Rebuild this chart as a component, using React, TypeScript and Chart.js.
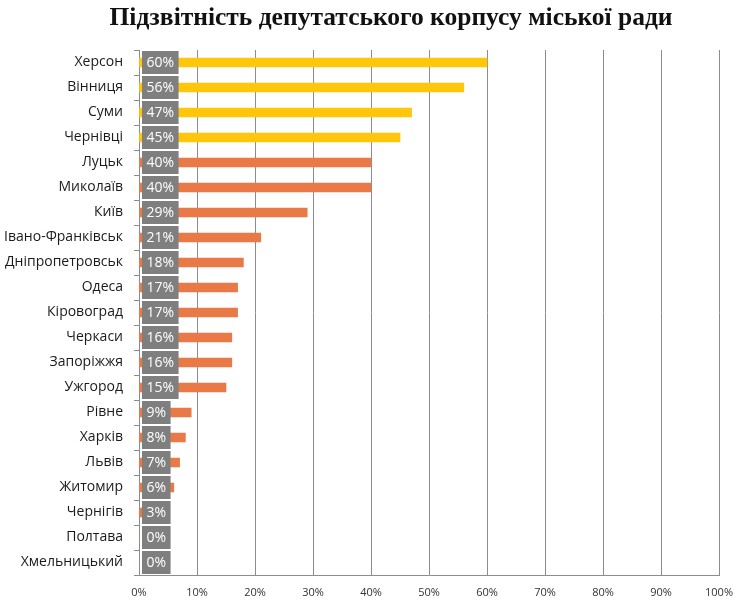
import { useEffect, useRef } from "react"
import { Chart, registerables } from "chart.js"

Chart.register(...registerables)

const title = "Підзвітність депутатського корпусу міської ради"
const cities = [
  "Херсон", "Вінниця", "Суми", "Чернівці", "Луцьк", "Миколаїв", "Київ",
  "Івано-Франківськ", "Дніпропетровськ", "Одеса", "Кіровоград", "Черкаси",
  "Запоріжжя", "Ужгород", "Рівне", "Харків", "Львів", "Житомир", "Чернігів",
  "Полтава", "Хмельницький",
]
const shares = [60, 56, 47, 45, 40, 40, 29, 21, 18, 17, 17, 16, 16, 15, 9, 8, 7, 6, 3, 0, 0]
const leaders = 4
const xTicks = [0, 10, 20, 30, 40, 50, 60, 70, 80, 90, 100]

const YELLOW = "#FFC60B"
const ORANGE = "#E97A48"
const GRID = "#8c8c8c"
const FONT = "'Open Sans', 'Noto Sans', sans-serif"

// grey value boxes at the start of every bar
const valueBoxes = {
  id: "valueBoxes",
  afterDatasetsDraw(chart) {
    const ctx = chart.ctx
    const meta = chart.getDatasetMeta(0)
    const x0 = chart.scales.x.getPixelForValue(0)
    ctx.save()
    ctx.font = `14px ${FONT}`
    ctx.textBaseline = "middle"
    ctx.textAlign = "left"
    meta.data.forEach((bar, i) => {
      const text = `${shares[i]}%`
      const w = ctx.measureText(text).width + 9
      const h = 23
      ctx.fillStyle = "#7f7f7f"
      ctx.fillRect(x0 + 3, bar.y - h / 2, w, h)
      ctx.fillStyle = "#ffffff"
      ctx.fillText(text, x0 + 7.5, bar.y + 1)
    })
    ctx.restore()
  },
}

// title sits off-centre in the original, so it is drawn here
const headline = {
  id: "headline",
  afterDraw(chart) {
    const ctx = chart.ctx
    ctx.save()
    ctx.font = `bold 25.5px 'Liberation Serif', 'DejaVu Serif', serif`
    ctx.fillStyle = "#111"
    ctx.textAlign = "center"
    ctx.textBaseline = "middle"
    ctx.fillText(title, 391, 18)
    ctx.restore()
  },
}

export default function App() {
  const chartRef = useRef(null)
  const chartInstance = useRef(null)

  useEffect(() => {
    document.body.style.margin = "0"
    if (!chartRef.current) return
    if (chartInstance.current) chartInstance.current.destroy()

    const ctx = chartRef.current.getContext("2d")
    chartInstance.current = new Chart(ctx, {
      type: "bar",
      data: {
        labels: cities,
        datasets: [
          {
            data: shares,
            backgroundColor: shares.map((_, i) => (i < leaders ? YELLOW : ORANGE)),
            barThickness: 9,
            borderWidth: 0,
          },
        ],
      },
      plugins: [valueBoxes, headline],
      options: {
        indexAxis: "y",
        animation: false,
        responsive: false,
        layout: { padding: { left: 0, right: 28, top: 50, bottom: 0 } },
        scales: {
          x: {
            min: 0,
            max: 100,
            afterBuildTicks: (scale) => {
              scale.ticks = xTicks.map((v) => ({ value: v }))
            },
            afterFit: (scale) => {
              scale.height = 32
            },
            grid: { color: GRID, drawTicks: false },
            border: { color: GRID },
            ticks: {
              padding: 11,
              color: "#333",
              font: { family: FONT, size: 11 },
              callback: (v) => `${v}%`,
            },
          },
          y: {
            afterFit: (scale) => {
              scale.width = 139
            },
            grid: { offset: true, drawOnChartArea: false, color: GRID, tickLength: 5 },
            border: { color: GRID },
            ticks: {
              padding: 11,
              color: "#1a1a1a",
              font: { family: FONT, size: 14 },
              autoSkip: false,
            },
          },
        },
        plugins: {
          legend: { display: false },
          tooltip: { enabled: false },
        },
      },
    })

    return () => {
      if (chartInstance.current) chartInstance.current.destroy()
    }
  }, [])

  return (
    <div style={{ width: 747, height: 607 }}>
      <canvas ref={chartRef} width={747} height={607}></canvas>
    </div>
  )
}
